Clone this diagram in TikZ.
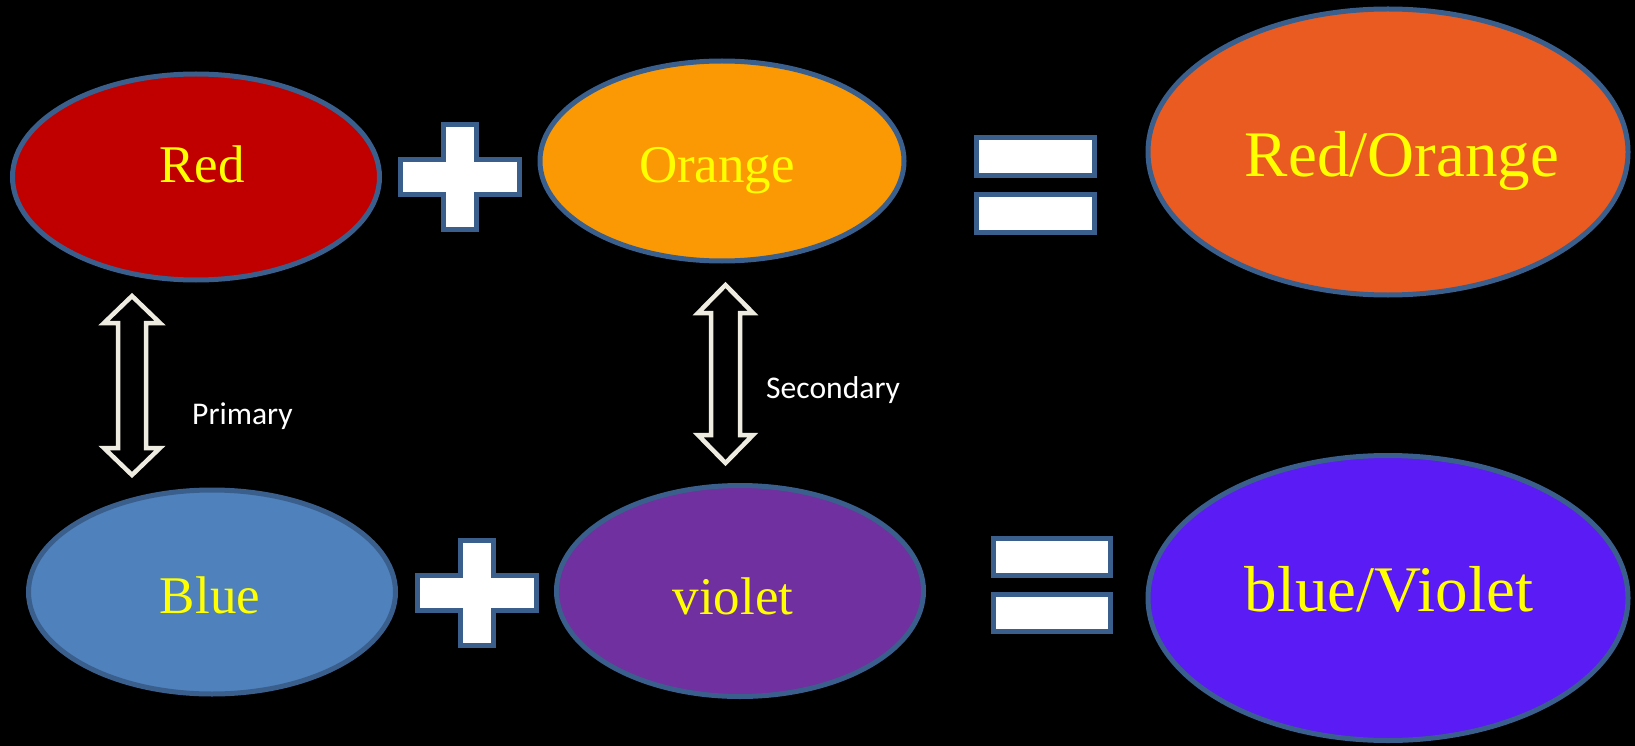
\documentclass[tikz,border=0pt]{standalone}
\usepackage{fontspec}
\setmainfont{Liberation Serif}
\newfontfamily\labelfont{Carlito}
\usetikzlibrary{shapes.geometric}
\definecolor{edgeblue}{HTML}{3A5F8C}
\definecolor{cred}{HTML}{C00000}
\definecolor{corange}{HTML}{FB9905}
\definecolor{credorange}{HTML}{E95B21}
\definecolor{cblue}{HTML}{4F81BD}
\definecolor{cviolet}{HTML}{7030A0}
\definecolor{cblueviolet}{HTML}{5A1BF4}
\definecolor{arrowline}{HTML}{EEECE1}
\definecolor{txtyellow}{HTML}{FFFF00}
\tikzset{
  colorball/.style={ellipse, draw=edgeblue, line width=5pt, inner sep=0pt},
  coltext/.style={anchor=base, text=txtyellow, font=\fontsize{53}{60}\selectfont, inner sep=0pt},
  bigtext/.style={anchor=base, text=txtyellow, font=\fontsize{65}{72}\selectfont, inner sep=0pt},
  opshape/.style={draw=edgeblue, fill=white, line width=5pt},
  blockarrow/.style={draw=arrowline, fill=black, line width=4.5pt, line join=miter},
  smalltext/.style={text=white, font=\labelfont\fontsize{31.6}{36}\selectfont, inner sep=0pt}
}
\begin{document}
\begin{tikzpicture}[x=1pt,y=-1pt]
\fill[black] (0,0) rectangle (1635,746);
\useasboundingbox (0,0) rectangle (1635,746);
% ellipses
\node[colorball, fill=cred, minimum width=367pt, minimum height=206pt] (red) at (196,177) {};
\node[colorball, fill=corange, minimum width=364pt, minimum height=200pt] (orange) at (722,161) {};
\node[colorball, fill=credorange, minimum width=480pt, minimum height=286pt] (redorange) at (1388,152) {};
\node[colorball, fill=cblue, minimum width=367pt, minimum height=204pt] (blue) at (212,592) {};
\node[colorball, fill=cviolet, minimum width=367pt, minimum height=211pt] (violet) at (740,591) {};
\node[colorball, fill=cblueviolet, minimum width=480pt, minimum height=285pt] (blueviolet) at (1388,598) {};
% texts
\node[coltext] (tred) at (202,183) {Red};
\node[coltext] (torange) at (717,183) {Orange};
\node[bigtext] (tredorange) at (1402,177) {Red/Orange};
\node[coltext] (tblue) at (210,613) {Blue};
\node[coltext] (tviolet) at (733,614) {violet};
\node[bigtext] (tblueviolet) at (1389,611) {blue/Violet};
% plus signs
\draw[opshape] (400.5,159.5) -- (443.5,159.5) -- (443.5,124.5) -- (476.5,124.5) -- (476.5,159.5) -- (519.5,159.5) -- (519.5,194.5) -- (476.5,194.5) -- (476.5,229.5) -- (443.5,229.5) -- (443.5,194.5) -- (400.5,194.5) -- cycle;
\draw[opshape] (417.5,575.5) -- (460.5,575.5) -- (460.5,540.5) -- (493.5,540.5) -- (493.5,575.5) -- (536.5,575.5) -- (536.5,610.5) -- (493.5,610.5) -- (493.5,645.5) -- (460.5,645.5) -- (460.5,610.5) -- (417.5,610.5) -- cycle;
% equals signs
\draw[opshape] (976.5,137.5) rectangle (1094.5,175.5);
\draw[opshape] (976.5,194.5) rectangle (1094.5,232.5);
\draw[opshape] (993.5,538.5) rectangle (1110.5,575.5);
\draw[opshape] (993.5,594.5) rectangle (1110.5,631.5);
% block arrows
\draw[blockarrow] (132,296) -- (160,323) -- (146,323) -- (146,448) -- (160,448) -- (132,475) -- (104,448) -- (118,448) -- (118,323) -- (104,323) -- cycle;
\draw[blockarrow] (725.5,285) -- (753,313) -- (740,313) -- (740,435) -- (753,435) -- (725.5,463) -- (698,435) -- (711,435) -- (711,313) -- (698,313) -- cycle;
% labels
\node[smalltext, anchor=west] (lprimary) at (192,416) {Primary};
\node[smalltext, anchor=west] (lsecondary) at (766,390) {Secondary};
\end{tikzpicture}
\end{document}
